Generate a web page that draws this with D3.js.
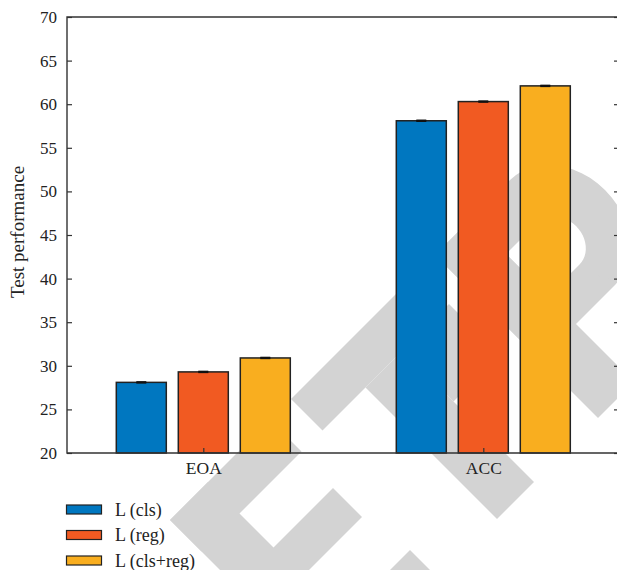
<!DOCTYPE html>
<html><head><meta charset="utf-8">
<script src="https://cdn.jsdelivr.net/npm/d3@7"></script>
<style>body{margin:0;background:#fff}</style>
</head><body>
<svg id="chart" width="617" height="570"></svg>
<script>
// ---- data ----
const categories = ["EOA", "ACC"];
const seriesNames = ["L (cls)", "L (reg)", "L (cls+reg)"];
const clsValues = [28.1, 58.1];
const regValues = [29.3, 60.3];
const clsRegValues = [30.9, 62.1];
const clsErr = [0.05, 0.05];
const regErr = [0.05, 0.05];
const clsRegErr = [0.05, 0.05];
const yTicks = [20, 25, 30, 35, 40, 45, 50, 55, 60, 65, 70];
const seriesColors = ["#0077c0", "#f15a22", "#f9ae1f"];

(function () {
const seriesValues = [clsValues, regValues, clsRegValues];
const seriesErrs = [clsErr, regErr, clsRegErr];
const FONT = "'Liberation Serif', 'Times New Roman', Times, serif";

const svg = d3.select("#chart");
const pLeft = 67, pRight = 619, pTop = 17, pBottom = 453;

// ---- watermark (decorative, rotated letters), rectangles in (a=x+y, d=x-y) space ----
const wm = svg.append("g").attr("fill", "#d3d3d3");
const toXY = ([a, d]) => [(a + d) / 2, (a - d) / 2];
function rectAD(a1, a2, d1, d2) {
  return [[a1, d1], [a1, d2], [a2, d2], [a2, d1]].map(toXY);
}
const line = d3.line();
const wmRects = [
  // E
  [690, 1030, -350, -274], [690, 753, -350, -150], [821, 879, -350, -155], [960, 1030, -350, -140],
  // T
  [690, 753, -108, 138], [753, 1016, -22, 52], [753, 855, 52, 145],
  // R stem
  [690, 1016, 180, 252]
];
wmRects.forEach(r => wm.append("path").attr("d", line(rectAD(...r)) + "Z"));
// R bowl with counter and leg
const outer = [[690, 180], [690, 330]];
for (let i = 0; i <= 24; i++) {
  const t = -Math.PI / 2 + Math.PI * i / 24;
  outer.push([795 + 105 * Math.sin(t), 330 + 85 * Math.cos(t)]);
}
outer.push([900, 330], [900, 180]);
const inner = [[760, 252], [760, 315]];
for (let i = 0; i <= 24; i++) {
  const t = -Math.PI / 2 + Math.PI * i / 24;
  inner.push([802 + 42 * Math.sin(t), 315 + 35 * Math.cos(t)]);
}
inner.push([844, 315], [844, 252]);
wm.append("path").attr("fill-rule", "evenodd")
  .attr("d", line(outer.map(toXY)) + "Z" + line(inner.map(toXY)) + "Z");
wm.append("path").attr("d", line([[870, 320], [870, 400], [1016, 480], [1016, 400]].map(toXY)) + "Z");

// ---- scales ----
const x = d3.scaleLinear().domain([0.5, 2.5]).range([63.3, 623.3]);
const y = d3.scaleLinear().domain([20, 70]).range([pBottom, pTop]);
const sub = d3.scalePoint().domain(seriesNames).range([-62, 62]);
const barW = 50;

// ---- bars ----
const bars = svg.append("g");
seriesNames.forEach((s, si) => {
  const g = bars.append("g");
  categories.forEach((c, ci) => {
    const cx = x(ci + 1) + sub(s);
    const v = seriesValues[si][ci];
    g.append("rect")
      .attr("x", cx - barW / 2).attr("y", y(v))
      .attr("width", barW).attr("height", y(20) - y(v))
      .attr("fill", seriesColors[si]).attr("stroke", "#222").attr("stroke-width", 1.5);
    const e = seriesErrs[si][ci];
    g.append("line").attr("x1", cx).attr("x2", cx).attr("y1", y(v + e)).attr("y2", y(v - e))
      .attr("stroke", "#111").attr("stroke-width", 1);
    [v + e, v - e].forEach(vv => g.append("line")
      .attr("x1", cx - 5).attr("x2", cx + 5).attr("y1", y(vv)).attr("y2", y(vv))
      .attr("stroke", "#111").attr("stroke-width", 1.6));
  });
});

// ---- axes ----
const axisColor = "#333";
function styleText(sel, size) {
  sel.attr("font-family", FONT).attr("font-size", size).attr("fill", "#222")
    .style("font-family", FONT).style("font-size", size + "px");
}
const yAxisL = svg.append("g").attr("transform", `translate(${pLeft},0)`)
  .call(d3.axisLeft(y).tickValues(yTicks).tickSizeInner(-5).tickSizeOuter(0).tickPadding(10));
yAxisL.select(".domain").remove();
styleText(yAxisL.selectAll("text"), 17);
const yAxisR = svg.append("g").attr("transform", `translate(${pRight},0)`)
  .call(d3.axisRight(y).tickValues(yTicks).tickSizeInner(-5).tickSizeOuter(0).tickFormat(""));
yAxisR.select(".domain").remove();
const xAxis = svg.append("g").attr("transform", `translate(0,${pBottom})`)
  .call(d3.axisBottom(x).tickValues([1, 2]).tickSizeInner(-5).tickSizeOuter(0)
    .tickPadding(9).tickFormat(d => categories[d - 1]));
xAxis.select(".domain").remove();
styleText(xAxis.selectAll("text"), 17.5);
svg.selectAll(".tick line").attr("stroke", axisColor).attr("stroke-width", 1.2);

// frame
svg.append("path")
  .attr("d", `M${pLeft},${pBottom}V${pTop}H${pRight}V${pBottom}Z`)
  .attr("fill", "none").attr("stroke", axisColor).attr("stroke-width", 1.4);

// y label
const yl = svg.append("text")
  .attr("transform", `translate(17,${(pTop + pBottom) / 2 - 3}) rotate(-90)`)
  .attr("text-anchor", "middle").attr("dominant-baseline", "central")
  .text("Test performance");
styleText(yl, 19);

// ---- legend ----
const legend = svg.append("g");
seriesNames.forEach((s, i) => {
  const ty = 505 + i * 25.5;
  legend.append("rect").attr("x", 66.5).attr("y", ty).attr("width", 35).attr("height", 9)
    .attr("fill", seriesColors[i]).attr("stroke", "#222").attr("stroke-width", 1.2);
  const t = legend.append("text").attr("x", 115).attr("y", ty + 10.5).text(s);
  styleText(t, 18);
});
})();
</script>
</body></html>
